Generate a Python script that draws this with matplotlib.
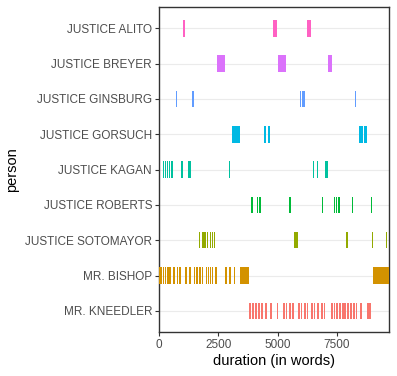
import matplotlib
matplotlib.use("Agg")
import matplotlib.pyplot as plt

# bottom to top, same order as the factor levels
persons = ["MR. KNEEDLER", "MR. BISHOP", "JUSTICE SOTOMAYOR", "JUSTICE ROBERTS",
           "JUSTICE KAGAN", "JUSTICE GORSUCH", "JUSTICE GINSBURG",
           "JUSTICE BREYER", "JUSTICE ALITO"]
colors = ["#F8766D", "#D39200", "#93AA00", "#00BA38", "#00C19F",
          "#00B9E3", "#619CFF", "#DB72FB", "#FF61C3"]

# (start, end) word positions of each turn
turns = {
    "MR. KNEEDLER": [(3794, 3879), (3921, 4006), (4048, 4131), (4174, 4258), (4300, 4385),
                     (4469, 4553), (4680, 4764), (4975, 5017), (5228, 5312), (5354, 5396),
                     (5481, 5565), (5607, 5692), (5860, 5945), (5987, 6029), (6113, 6198),
                     (6240, 6282), (6408, 6493), (6535, 6577), (6661, 6745), (6830, 6914),
                     (6956, 6998), (7251, 7336), (7378, 7420), (7462, 7547), (7589, 7673),
                     (7715, 7884), (7926, 8010), (8053, 8137), (8179, 8263), (8305, 8347),
                     (8474, 8558), (8769, 8938)],
    "MR. BISHOP": [(0, 110), (170, 210), (250, 300), (340, 390), (420, 505), (590, 675),
                   (760, 800), (845, 915), (1096, 1180), (1265, 1350), (1475, 1518),
                   (1560, 1644), (1686, 1770), (1813, 1855), (1981, 2024), (2066, 2108),
                   (2150, 2192), (2234, 2277), (2361, 2445), (2783, 2867), (2951, 3035),
                   (3162, 3204), (3415, 3794), (9022, 9700)],
    "JUSTICE SOTOMAYOR": [(1686, 1729), (1813, 1981), (2024, 2066), (2150, 2192),
                          (2234, 2277), (2319, 2361), (5692, 5860), (7884, 7968),
                          (8980, 9022), (9570, 9612)],
    "JUSTICE ROBERTS": [(3879, 3963), (4131, 4174), (4216, 4300), (5480, 5565),
                        (6872, 6914), (7378, 7420), (7462, 7504), (7547, 7631),
                        (8137, 8179), (8938, 8980)],
    "JUSTICE KAGAN": [(170, 210), (250, 300), (340, 380), (420, 460), (500, 590),
                      (927, 1012), (1223, 1349), (2951, 2993), (6493, 6535),
                      (6661, 6703), (6999, 7125)],
    "JUSTICE GORSUCH": [(3078, 3230), (3260, 3415), (4427, 4511), (4595, 4680),
                        (8432, 8600), (8643, 8769)],
    "JUSTICE GINSBURG": [(717, 759), (1391, 1475), (5945, 5987), (6058, 6143), (8263, 8305)],
    "JUSTICE BREYER": [(2445, 2783), (5017, 5242), (5270, 5354), (7125, 7294)],
    "JUSTICE ALITO": [(1020, 1080), (4806, 4975), (6240, 6408)],
}
x_ticks = [0, 2500, 5000, 7500]

plt.rcParams["font.family"] = ["Liberation Sans", "DejaVu Sans"]
fig = plt.figure(figsize=(3.97, 3.76), dpi=100)
ax = fig.add_axes([0.4005, 0.117, 0.5795, 0.864])

pad = 12  # small widening so the pixel-snapped bars keep their weight
for i, (name, col) in enumerate(zip(persons, colors)):
    for start, end in turns[name]:
        ax.barh(i, end - start + 2 * pad, left=start - pad, height=0.47, color=col,
                linewidth=0, antialiased=False, zorder=3)

ax.set_yticks(range(len(persons)))
ax.set_yticklabels(persons)
ax.set_ylim(-0.6, len(persons) - 0.4)
ax.set_xlim(0, 9700)
ax.set_xticks(x_ticks)
ax.set_xticklabels([str(t) for t in x_ticks])

ax.grid(axis="y", color="#EBEBEB", linewidth=0.8, zorder=0)
ax.grid(axis="x", visible=False)
for s in ax.spines.values():
    s.set_color("#333333")
    s.set_linewidth(1.0)
ax.tick_params(axis="both", colors="#333333", labelcolor="#4D4D4D",
               labelsize=8.5, length=3, width=0.8, pad=2)

ax.set_xlabel("duration (in words)", fontsize=10.5, labelpad=2)
ax.set_ylabel("person", fontsize=10.5, labelpad=4)

fig.savefig("out.png", dpi=100)
